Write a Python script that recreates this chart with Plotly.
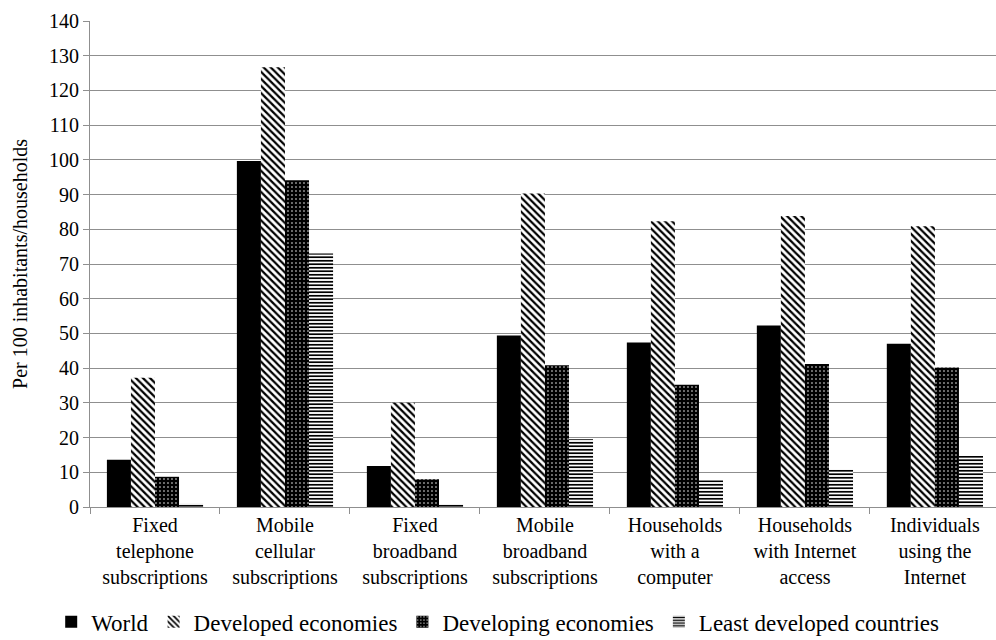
import plotly.graph_objects as go

categories = [
    "Fixed<br>telephone<br>subscriptions",
    "Mobile<br>cellular<br>subscriptions",
    "Fixed<br>broadband<br>subscriptions",
    "Mobile<br>broadband<br>subscriptions",
    "Households<br>with a<br>computer",
    "Households<br>with Internet<br>access",
    "Individuals<br>using the<br>Internet",
]

world = [13.6, 99.7, 11.8, 49.4, 47.4, 52.3, 47.0]
developed = [37.2, 126.7, 30.0, 90.3, 82.3, 83.8, 80.9]
developing = [8.7, 94.1, 8.0, 40.8, 35.2, 41.2, 40.2]
least_developed = [1.0, 73.0, 0.8, 19.5, 7.7, 10.7, 14.7]

y_ticks = list(range(0, 141, 10))

FONT = "Liberation Serif"
GRID = "#8f8f8f"

fig = go.Figure()

fig.add_trace(go.Bar(
    name="World", x=categories, y=world,
    marker=dict(color="black", line=dict(width=0)),
))
fig.add_trace(go.Bar(
    name="Developed economies", x=categories, y=developed,
    marker=dict(
        color="white", line=dict(width=0),
        pattern=dict(shape="\\", fgcolor="black", bgcolor="white",
                     size=5, solidity=0.45, fillmode="replace"),
    ),
))
fig.add_trace(go.Bar(
    name="Developing economies", x=categories, y=developing,
    marker=dict(
        color="black", line=dict(width=0),
        pattern=dict(shape=".", fgcolor="white", bgcolor="black",
                     size=4, solidity=0.12, fillmode="replace"),
    ),
))
fig.add_trace(go.Bar(
    name="Least developed countries", x=categories, y=least_developed,
    marker=dict(
        color="white", line=dict(width=0),
        pattern=dict(shape="-", fgcolor="black", bgcolor="white",
                     size=3.5, solidity=0.5, fillmode="replace"),
    ),
))

fig.update_layout(
    width=996, height=640,
    margin=dict(l=90, r=0, t=21, b=133, autoexpand=False),
    paper_bgcolor="white", plot_bgcolor="white",
    font=dict(family=FONT, size=20, color="black"),
    barmode="group", bargap=0.26, bargroupgap=0,
    showlegend=True,
    legend=dict(
        orientation="h", x=0.45, xanchor="center", y=-0.236, yanchor="middle",
        font=dict(family=FONT, size=23, color="black"),
        itemwidth=30, tracegroupgap=0, itemsizing="constant",
        traceorder="normal",
    ),
)

fig.update_xaxes(
    type="category", range=[-0.5, 6.47],
    showline=True, linecolor=GRID, linewidth=1,
    ticks="outside", tickson="boundaries", ticklen=6, tickcolor=GRID,
    showgrid=False, tickfont=dict(family=FONT, size=20), automargin=False,
)
fig.update_yaxes(
    range=[0, 140], tickvals=y_ticks,
    showline=True, linecolor=GRID, linewidth=1,
    ticks="outside", ticklen=6, tickcolor=GRID,
    showgrid=True, gridcolor=GRID, gridwidth=1,
    zeroline=False, automargin=False,
    tickfont=dict(family=FONT, size=20),
    title=dict(text="Per 100 inhabitants/households",
               font=dict(family=FONT, size=20), standoff=16),
)

fig.write_html("out.html")
